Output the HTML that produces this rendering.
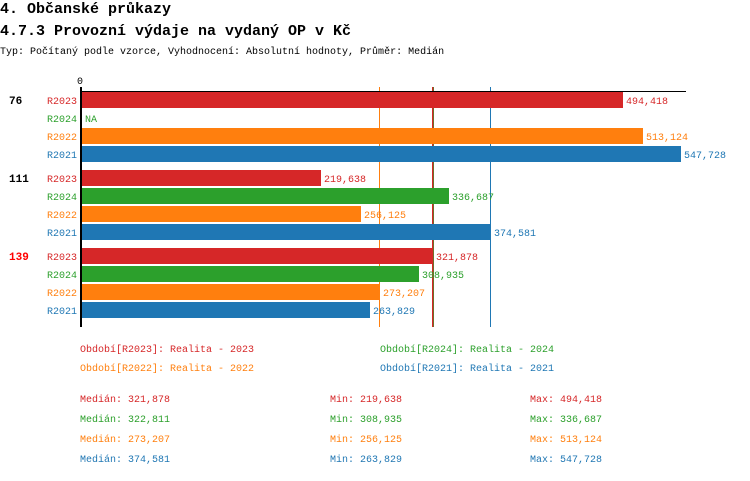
<!DOCTYPE html>
<html><head><meta charset="utf-8"><style>
body{margin:0;background:#fff}
svg text{font-family:"Liberation Mono",monospace}
</style></head><body>
<svg width="750" height="476" xmlns="http://www.w3.org/2000/svg">
<text x="0" y="13" font-size="15" font-weight="bold" fill="#000">4. Občanské průkazy</text>
<text x="0" y="35" font-size="15" font-weight="bold" fill="#000">4.7.3 Provozní výdaje na vydaný OP v Kč</text>
<text x="0" y="54" font-size="10" fill="#000">Typ: Počítaný podle vzorce, Vyhodnocení: Absolutní hodnoty, Průměr: Medián</text>
<text x="80" y="84" font-size="10" text-anchor="middle">0</text>
<line x1="379.5" y1="87" x2="379.5" y2="327" stroke="#ff7f0e" stroke-width="1"/>
<line x1="433" y1="87" x2="433" y2="327" stroke="#d62728" stroke-width="2"/>
<line x1="433.5" y1="87" x2="433.5" y2="327" stroke="#2ca02c" stroke-width="0.6"/>
<line x1="490.5" y1="87" x2="490.5" y2="327" stroke="#1f77b4" stroke-width="1"/>
<g font-size="10">
<text x="9" y="104" font-weight="bold" font-size="11">76</text>
<text x="47" y="104" fill="#d62728">R2023</text>
<rect x="82" y="92" width="541" height="16" fill="#d62728"/>
<text x="626" y="104" fill="#d62728">494,418</text>
<text x="47" y="122" fill="#2ca02c">R2024</text>
<text x="85" y="122" fill="#2ca02c">NA</text>
<text x="47" y="140" fill="#ff7f0e">R2022</text>
<rect x="82" y="128" width="561" height="16" fill="#ff7f0e"/>
<text x="646" y="140" fill="#ff7f0e">513,124</text>
<text x="47" y="158" fill="#1f77b4">R2021</text>
<rect x="82" y="146" width="599" height="16" fill="#1f77b4"/>
<text x="684" y="158" fill="#1f77b4">547,728</text>
<text x="9" y="182" font-weight="bold" font-size="11">111</text>
<text x="47" y="182" fill="#d62728">R2023</text>
<rect x="82" y="170" width="239" height="16" fill="#d62728"/>
<text x="324" y="182" fill="#d62728">219,638</text>
<text x="47" y="200" fill="#2ca02c">R2024</text>
<rect x="82" y="188" width="367" height="16" fill="#2ca02c"/>
<text x="452" y="200" fill="#2ca02c">336,687</text>
<text x="47" y="218" fill="#ff7f0e">R2022</text>
<rect x="82" y="206" width="279" height="16" fill="#ff7f0e"/>
<text x="364" y="218" fill="#ff7f0e">256,125</text>
<text x="47" y="236" fill="#1f77b4">R2021</text>
<rect x="82" y="224" width="408" height="16" fill="#1f77b4"/>
<text x="494" y="236" fill="#1f77b4">374,581</text>
<text x="9" y="260" font-weight="bold" font-size="11" fill="#ff0000">139</text>
<text x="47" y="260" fill="#d62728">R2023</text>
<rect x="82" y="248" width="351" height="16" fill="#d62728"/>
<text x="436" y="260" fill="#d62728">321,878</text>
<text x="47" y="278" fill="#2ca02c">R2024</text>
<rect x="82" y="266" width="337" height="16" fill="#2ca02c"/>
<text x="422" y="278" fill="#2ca02c">308,935</text>
<text x="47" y="296" fill="#ff7f0e">R2022</text>
<rect x="82" y="284" width="298" height="16" fill="#ff7f0e"/>
<text x="383" y="296" fill="#ff7f0e">273,207</text>
<text x="47" y="314" fill="#1f77b4">R2021</text>
<rect x="82" y="302" width="288" height="16" fill="#1f77b4"/>
<text x="373" y="314" fill="#1f77b4">263,829</text>
</g>
<line x1="80" y1="91.5" x2="686" y2="91.5" stroke="#000" stroke-width="1"/>
<line x1="81" y1="87" x2="81" y2="327" stroke="#000" stroke-width="2"/>
<g font-size="10">
<text x="80" y="352" fill="#d62728">Období[R2023]: Realita - 2023</text>
<text x="380" y="352" fill="#2ca02c">Období[R2024]: Realita - 2024</text>
<text x="80" y="371" fill="#ff7f0e">Období[R2022]: Realita - 2022</text>
<text x="380" y="371" fill="#1f77b4">Období[R2021]: Realita - 2021</text>
<text x="80" y="402" fill="#d62728">Medián: 321,878</text>
<text x="330" y="402" fill="#d62728">Min: 219,638</text>
<text x="530" y="402" fill="#d62728">Max: 494,418</text>
<text x="80" y="422" fill="#2ca02c">Medián: 322,811</text>
<text x="330" y="422" fill="#2ca02c">Min: 308,935</text>
<text x="530" y="422" fill="#2ca02c">Max: 336,687</text>
<text x="80" y="442" fill="#ff7f0e">Medián: 273,207</text>
<text x="330" y="442" fill="#ff7f0e">Min: 256,125</text>
<text x="530" y="442" fill="#ff7f0e">Max: 513,124</text>
<text x="80" y="462" fill="#1f77b4">Medián: 374,581</text>
<text x="330" y="462" fill="#1f77b4">Min: 263,829</text>
<text x="530" y="462" fill="#1f77b4">Max: 547,728</text>
</g>
</svg>
</body></html>
